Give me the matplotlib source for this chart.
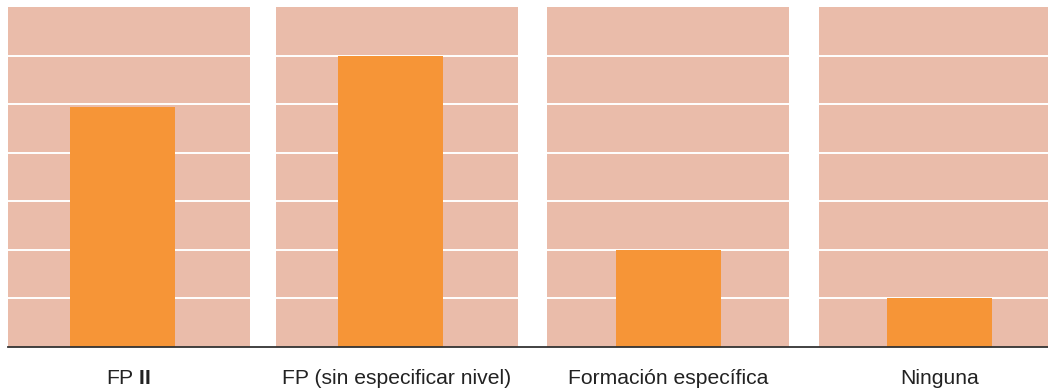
import matplotlib
matplotlib.use("Agg")
import matplotlib.pyplot as plt
from matplotlib.lines import Line2D

# datos
categorias = ["FP $\\mathbf{II}$", "FP (sin especificar nivel)", "Formación específica", "Ninguna"]
valores = [4.95, 6.0, 2.0, 1.0]
ymax = 7
grid_ticks = [1, 2, 3, 4, 5, 6]

fondo = "#EABCAA"
naranja = "#F69537"

plt.rcParams["font.family"] = ["Liberation Sans", "DejaVu Sans"]
plt.rcParams["mathtext.fontset"] = "custom"
plt.rcParams["mathtext.rm"] = "Liberation Sans"
plt.rcParams["mathtext.bf"] = "Liberation Sans:bold"

W, H = 1048, 392
fig = plt.figure(figsize=(W / 100, H / 100), dpi=100)

# posicion de los paneles (px) y desplazamiento de la barra dentro de cada uno
izq_paneles = [8, 276, 547, 819]
desp_barra = [-6.5, -7, 0, -1]
ancho_panel = 242
base, alto = 347, 340
ancho_barra = 105 / ancho_panel

for i, (cat, val) in enumerate(zip(categorias, valores)):
    left = izq_paneles[i]
    ax = fig.add_axes([left / W, (H - base) / H, ancho_panel / W, alto / H])
    ax.set_facecolor(fondo)
    ax.bar([desp_barra[i] / ancho_panel], [val], width=ancho_barra, color=naranja, zorder=3)
    ax.set_xlim(-0.5, 0.5)
    ax.set_ylim(0, ymax)
    ax.set_yticks(grid_ticks)
    ax.grid(axis="y", color="white", linewidth=1.4, zorder=1)
    ax.tick_params(length=0, labelleft=False, labelbottom=False)
    for s in ax.spines.values():
        s.set_visible(False)
    ax.text(0.5, -0.092, cat, transform=ax.transAxes, ha="center", va="center",
            fontsize=15.2, color="#222222")

# linea base a lo ancho
fig.add_artist(Line2D([izq_paneles[0] / W, 1.0], [(H - base) / H] * 2, color="#333333",
                      linewidth=1.3, transform=fig.transFigure))

fig.savefig("out.png", dpi=100)
